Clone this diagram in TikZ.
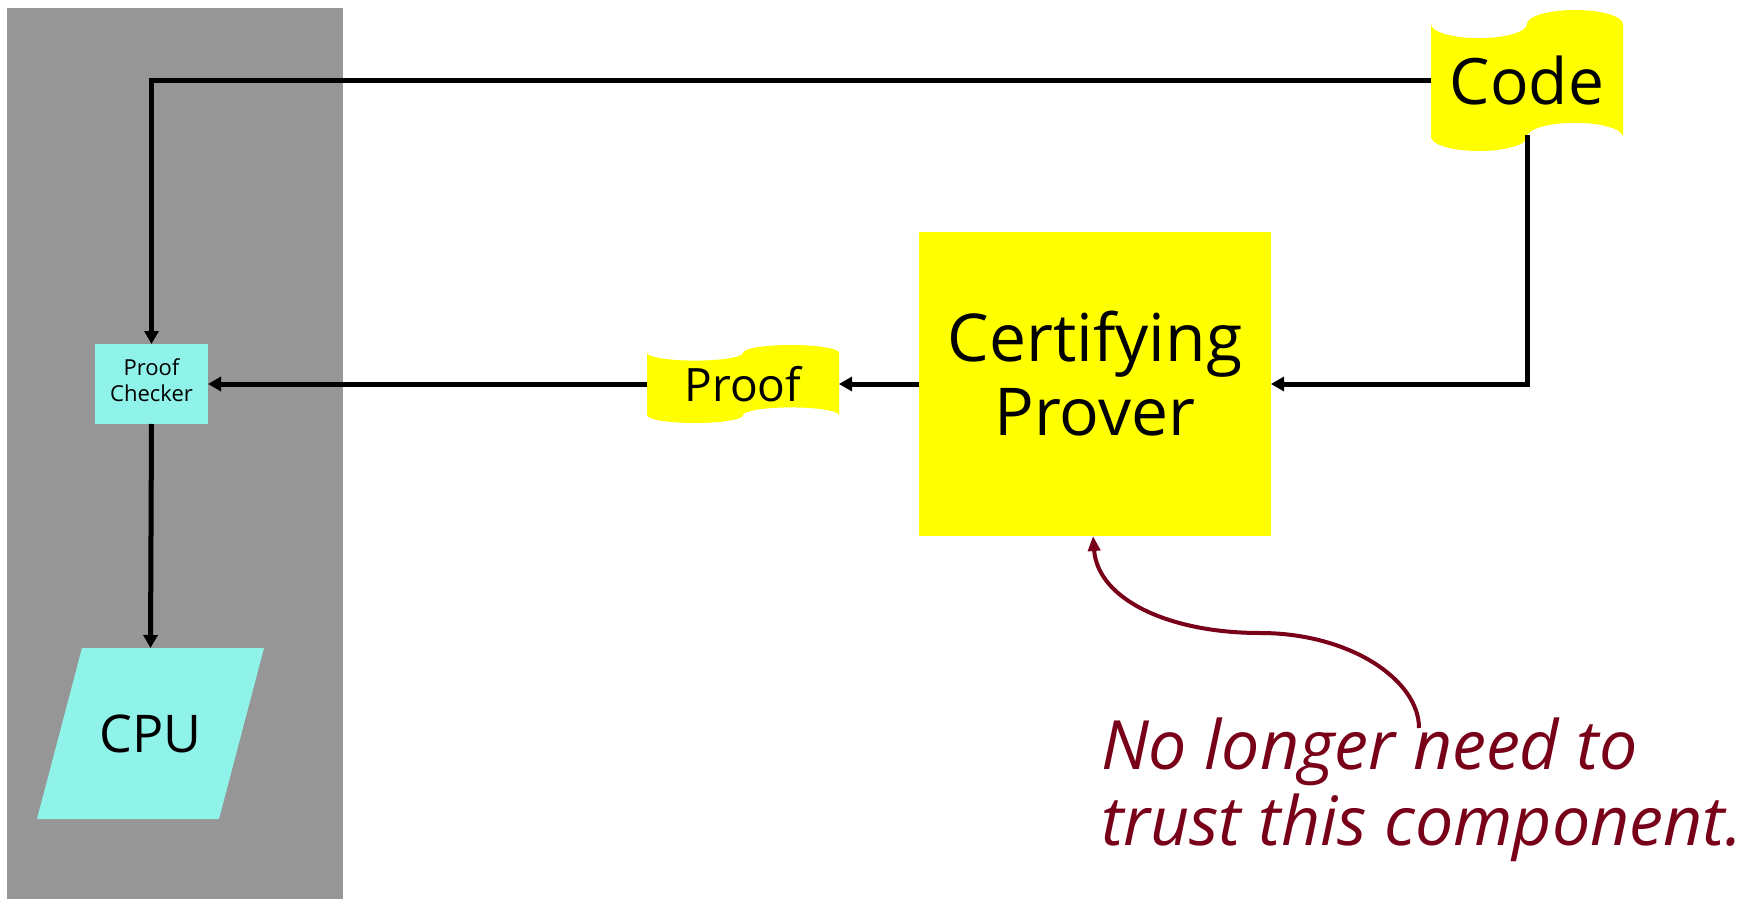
\documentclass[tikz,border=0pt]{standalone}
\usepackage{fontspec}
\setmainfont{Open Sans}
\usetikzlibrary{arrows.meta,calc}
\pgfdeclarelayer{background}
\pgfsetlayers{background,main}
\definecolor{panelgray}{RGB}{150,150,150}
\definecolor{aqua}{RGB}{143,243,234}
\definecolor{tapeyellow}{RGB}{255,255,0}
\definecolor{notered}{RGB}{120,0,24}

% punched-tape outline behind a named node: node name, width, height
\newcommand\tapefill[3]{%
  \fill[tapeyellow] ([shift={(-#2/2,#3*0.4)}]#1.center)
    arc[start angle=180,end angle=360,x radius=#2/4,y radius=#3/10]
    arc[start angle=180,end angle=0,x radius=#2/4,y radius=#3/10]
    -- ++(0,-#3*0.8)
    arc[start angle=0,end angle=180,x radius=#2/4,y radius=#3/10]
    arc[start angle=0,end angle=-180,x radius=#2/4,y radius=#3/10]
    -- cycle;}

\begin{document}
\begin{tikzpicture}[x=0.5pt,y=0.5pt,
  every node/.style={inner sep=0pt,outer sep=0pt},
  flow/.style={line width=2.5pt,-{Triangle[length=6.5pt,width=7pt]}},
  note/.style={line width=2pt,draw=notered,-{Triangle[length=7.5pt,width=6pt,fill=notered]}},
  label/.style={align=center}]
\useasboundingbox (0,0) rectangle (1758,-899);

% components
\node[label,fill=aqua,minimum width=56.5pt,minimum height=40pt,text depth=4pt,
      font=\fontsize{11}{13}\selectfont] (checker) at (151.5,-384) {Proof\\Checker};
\node[label,minimum width=91pt,minimum height=85.5pt,
      font=\fontsize{26}{30}\selectfont] (cpu) at (150.5,-733.5) {CPU};
\node[label,fill=tapeyellow,minimum width=176pt,minimum height=152pt,text depth=11pt,
      font=\fontsize{33}{37}\selectfont] (prover) at (1095,-384) {Certifying\\Prover};
\node[label,minimum width=96pt,minimum height=39pt,
      font=\fontsize{23}{27}\selectfont] (proof) at (743,-384) {Proof};
\node[label,minimum width=96pt,minimum height=70.5pt,
      font=\fontsize{32}{36}\selectfont] (code) at (1527,-80.5) {Code};

% data flow
\draw[flow] (code.west) -| (checker.north);
\draw[flow] (code.south) ++(0,16) |- (prover.east);
\draw[flow] (prover.west) -- (proof.east);
\draw[flow] (proof.west) -- (checker.east);
\draw[flow] (checker.south) -- (cpu.north);

% remark about the prover
\node[anchor=north west,align=left,text=notered,
      font=\itshape\fontsize{34}{38}\selectfont] (msg) at (1101,-718)
  {No longer need to\\trust this component.};
\coordinate (tail) at (1419,-728);
\coordinate (bend) at (1260,-633);
\draw[note] (tail) .. controls (1419,-680) and (1350,-633) .. (bend)
  .. controls (1170,-633) and (1098,-600) .. ([shift={(-2,0)}]prover.south);

% backdrop and shapes
\begin{pgfonlayer}{background}
  \fill[panelgray] (7,-8) rectangle (343,-899);
  \fill[aqua] ([shift={(22.5,0)}]cpu.north west) -- ([shift={(22.5,0)}]cpu.north east)
    -- ([shift={(-22.5,0)}]cpu.south east) -- ([shift={(-22.5,0)}]cpu.south west) -- cycle;
  \tapefill{proof}{192}{78}
  \tapefill{code}{192}{141}
\end{pgfonlayer}
\end{tikzpicture}
\end{document}
